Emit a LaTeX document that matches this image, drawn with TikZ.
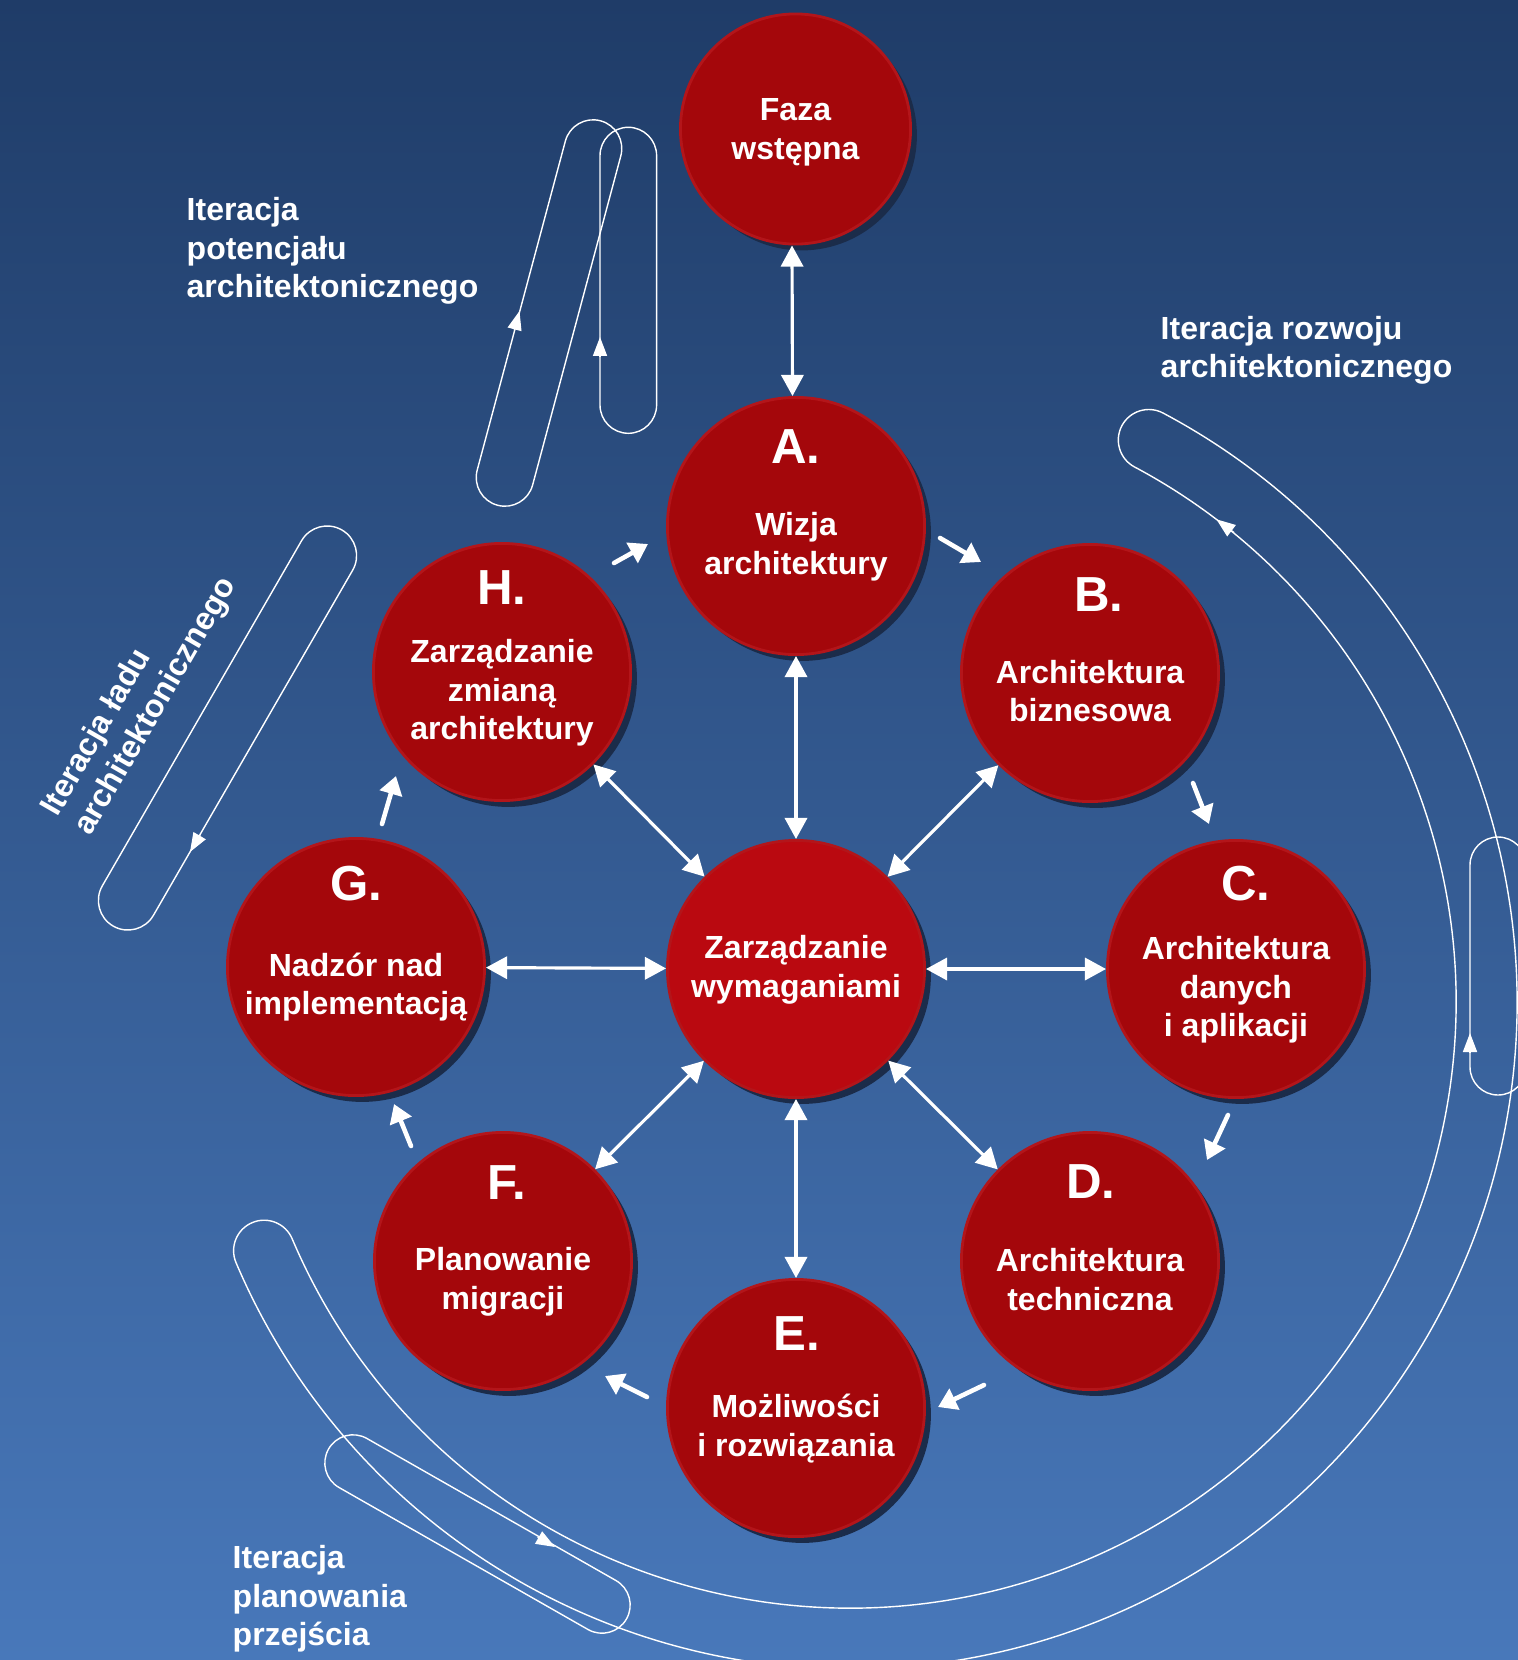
\documentclass[tikz,border=0pt]{standalone}
\usepackage{fontspec}
\setmainfont{Liberation Sans}
\usetikzlibrary{arrows.meta,shadows,calc}
\definecolor{bgtop}{HTML}{1F3C68}
\definecolor{bgbot}{HTML}{4878BA}
\definecolor{ringred}{HTML}{A4070B}
\definecolor{midred}{HTML}{BA0910}
\definecolor{rimred}{HTML}{B3151A}
\definecolor{shadowc}{HTML}{1B2C4A}
\tikzset{
  phase/.style={circle, minimum size=2.57cm, inner sep=0pt, fill=ringred, draw=rimred, line width=0.8pt,
    drop shadow={shadow xshift=1.8pt, shadow yshift=-1.8pt, opacity=1, fill=shadowc}},
  hub/.style={phase, fill=midred},
  first/.style={phase, minimum size=2.3cm},
  letter/.style={text=white, inner sep=0pt, font=\fontsize{14}{16}\selectfont\bfseries},
  body/.style={text=white, inner sep=0pt, align=center, font=\fontsize{9.1}{11}\selectfont\bfseries},
  lbl/.style={text=white, inner sep=0pt, align=left, anchor=west, font=\fontsize{9.1}{10.9}\selectfont\bfseries},
  rlbl/.style={text=white, inner sep=0pt, align=left, anchor=center, font=\fontsize{9.1}{10.9}\selectfont\bfseries},
  dbl/.style={draw=white, line width=0.9pt, {Triangle[length=6pt,width=6.3pt]}-{Triangle[length=6pt,width=6.3pt]}},
  cyc/.style={draw=white, line width=1.3pt, line cap=round, -{Triangle[length=5.2pt,width=6.4pt]}},
  loopline/.style={draw=white, line width=0.4pt},
  looptip/.style={draw=white, line width=0.4pt, -{Triangle[length=5.4pt,width=4pt]}},
}
\newcommand\stadiumloop[5]{\draw[loopline, shift={(#1,#2)}, rotate=#3]
  (-#4,-#5) -- (#4,-#5) arc[start angle=-90, end angle=90, radius=#5]
  -- (-#4,#5) arc[start angle=90, end angle=270, radius=#5] -- cycle;}
\begin{document}
\begin{tikzpicture}[x=0.01cm, y=-0.01cm]
\useasboundingbox (0,0) rectangle (1518,1660);
\clip (0,0) rectangle (1518,1660);
\shade[top color=bgtop, bottom color=bgbot] (0,0) rectangle (1518,1660);

% iteration loops
\coordinate (c) at (850,1002);
\draw[loopline] ($(c)+(-62:667)$) arc[start angle=-62, end angle=157, radius=667]
  arc[start angle=157, end angle=337, radius=30.5]
  arc[start angle=157, end angle=-62, radius=606]
  arc[start angle=118, end angle=298, radius=30.5] -- cycle;
\stadiumloop{549}{313}{75}{170.3}{28.7}
\stadiumloop{628.3}{280.3}{90}{124.7}{28.3}
\stadiumloop{227.5}{728}{60}{199.2}{29.5}
\stadiumloop{1498}{966}{90}{101}{28}
\stadiumloop{477.5}{1534}{-29.7}{143.3}{28.2}
\coordinate (t1a) at (514.3,330.3); \coordinate (t1b) at (519.5,311);
\coordinate (t2a) at (600,357);     \coordinate (t2b) at (600,337);
\coordinate (t3a) at (200,835);     \coordinate (t3b) at (190,852);
\coordinate (t4a) at (1470,1053);   \coordinate (t4b) at (1470,1033);
\coordinate (t5a) at (537.6,1537);  \coordinate (t5b) at (555,1547);
\coordinate (t6a) at (1234,532.6);  \coordinate (t6b) at (1216.4,519.3);
\foreach \i in {1,...,6} {\draw[looptip] (t\i a) -- (t\i b);}

% phases
\node[first] (F0) at (795.5,129) {};
\node[phase] (A) at (796,526) {};
\node[phase] (B) at (1090,673) {};
\node[phase] (C) at (1236,969) {};
\node[phase] (D) at (1090,1261) {};
\node[phase] (E) at (796,1408) {};
\node[phase] (F) at (503,1261) {};
\node[phase] (G) at (356,967) {};
\node[phase] (H) at (502,672) {};
\node[hub] (M) at (796,969) {};

% double arrows
\draw[dbl] ([xshift=-0.035cm]F0.south) -- ([xshift=-0.035cm]A.north);
\foreach \n in {A,B,C,D,E,F,G,H} {\draw[dbl] (\n) -- (M);}

% cycle arrows
\coordinate (ha1) at (614,563);   \coordinate (ha2) at (648,544);
\coordinate (ab1) at (940,538);   \coordinate (ab2) at (981,562);
\coordinate (bc1) at (1193,783);  \coordinate (bc2) at (1209,824);
\coordinate (cd1) at (1228,1115); \coordinate (cd2) at (1207,1160);
\coordinate (de1) at (984,1385);  \coordinate (de2) at (938,1407);
\coordinate (ef1) at (647,1397);  \coordinate (ef2) at (605,1376);
\coordinate (fg1) at (411,1146);  \coordinate (fg2) at (394,1104);
\coordinate (gh1) at (382,824);   \coordinate (gh2) at (396,776);
\foreach \p in {ha,ab,bc,cd,de,ef,fg,gh} {\draw[cyc] (\p1) -- (\p2);}

% texts in circles
\node[body] (t0) at (795.5,132) {Faza\\wstępna};
\node[letter] (lA) at (796,447) {A.};
\node[body] (tA) at (796,546.5) {Wizja\\architektury};
\node[letter] (lB) at (1099,595) {B.};
\node[body] (tB) at (1090,691) {Architektura\\biznesowa};
\node[letter] (lC) at (1246,884) {C.};
\node[body] (tC) at (1236,990) {Architektura\\danych\\i aplikacji};
\node[letter] (lD) at (1091,1182) {D.};
\node[body] (tD) at (1090,1279.5) {Architektura\\techniczna};
\node[letter] (lE) at (797,1334) {E.};
\node[body] (tE) at (796,1428.5) {Możliwości\\i rozwiązania};
\node[letter] (lF) at (507,1183) {F.};
\node[body] (tF) at (503,1281.5) {Planowanie\\migracji};
\node[letter] (lG) at (356,884) {G.};
\node[body] (tG) at (356,987) {Nadzór nad\\implementacją};
\node[letter] (lH) at (502,588) {H.};
\node[body] (tH) at (502,693) {Zarządzanie\\zmianą\\architektury};
\node[body] (tM) at (796,969.5) {Zarządzanie\\wymaganiami};

% iteration labels
\node[lbl] (l1) at (186,251) {Iteracja\\potencjału\\architektonicznego};
\node[lbl] (l2) at (1160,350) {Iteracja rozwoju\\architektonicznego};
\node[lbl] (l3) at (232,1599) {Iteracja\\planowania\\przejścia};
\node[rlbl, rotate=60] (l4) at (140,697) {Iteracja ładu\\architektonicznego};
\end{tikzpicture}
\end{document}
